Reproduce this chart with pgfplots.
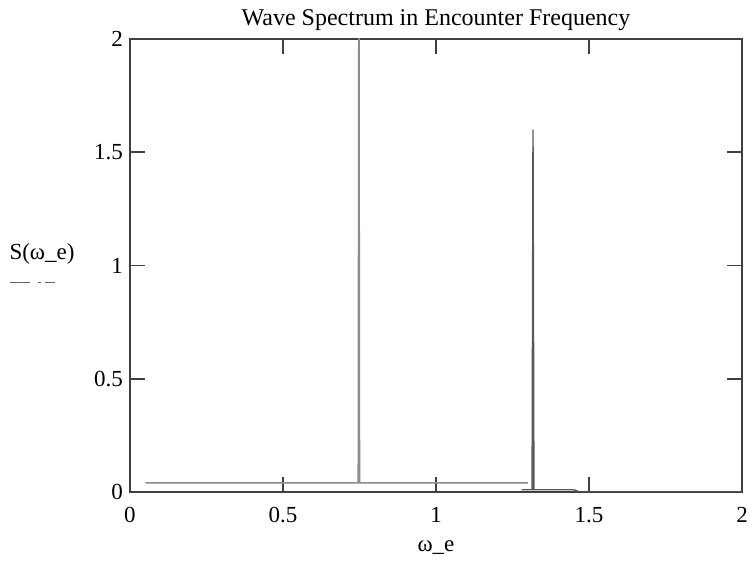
\documentclass[border=0pt]{standalone}
\usepackage{fontspec}
\setmainfont{Liberation Serif}
\usepackage{pgfplots}
\pgfplotsset{compat=1.18}
\begin{document}
\begin{tikzpicture}
\path[use as bounding box] (-65pt,-34.5pt) rectangle (312pt,246pt);
\begin{axis}[
  at={(0,0)}, anchor=south west,
  scale only axis, width=306pt, height=226.5pt,
  xmin=0, xmax=2, ymin=0, ymax=2,
  xtick={0,0.5,1,1.5,2}, ytick={0,0.5,1,1.5,2},
  tick align=inside, major tick length=7.5pt,
  axis line style={black!75, line width=0.9pt},
  every tick/.style={black!75, line width=0.8pt},
  /pgf/number format/assume math mode=true,
  ticklabel style={font=\fontsize{11.5}{13}\selectfont},
  xticklabel style={yshift=-4pt},
  title={Wave Spectrum in Encounter Frequency},
  title style={font=\fontsize{12}{14}\selectfont, at={(0.5,1)}, anchor=center, yshift=3.5pt},
  xlabel={ω\_e},
  xlabel style={font=\fontsize{11.5}{13}\selectfont, at={(0.5,0)}, anchor=center, yshift=-28pt},
  ylabel={S(ω\_e)\\[-1pt]\tikz\draw[black!60, line width=0.6pt, dash pattern=on 10pt off 4pt on 1.5pt off 2pt on 5pt off 2pt on 1.5pt] (0,0)--(23pt,0);},
  ylabel style={font=\fontsize{11.5}{13}\selectfont, align=left, rotate=-90, at={(0,0.505)}, anchor=center, xshift=-44pt},
]
% spike near 0.75 (goes beyond the top of the axis)
\addplot[black!45, line width=0.8pt] coordinates {
  (0.05,0.04) (0.74,0.04) (0.746,0.04) (0.748,2.3) (0.750,0.04) (1.30,0.04)
};
% spike near 1.32
\addplot[black!65, line width=0.7pt] coordinates {
  (1.28,0.01) (1.314,0.01) (1.317,1.60) (1.320,0.01) (1.45,0.01) (1.47,0.0) (2.0,0.0)
};
\end{axis}
\end{tikzpicture}
\end{document}
